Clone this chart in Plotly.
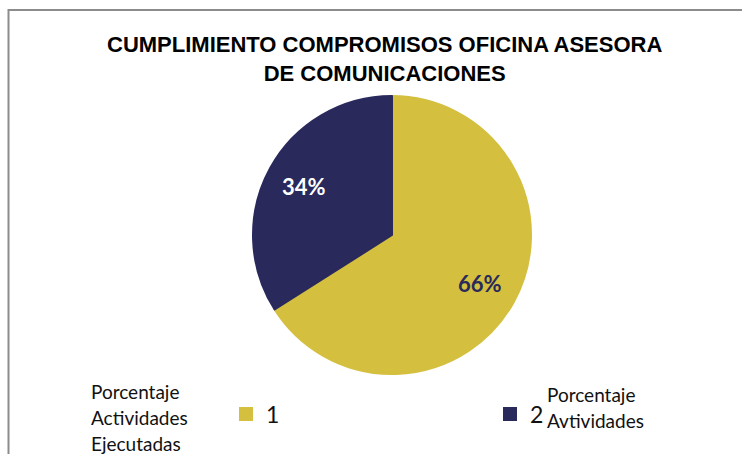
import math
import plotly.graph_objects as go

labels = ["1", "2"]
values = [66, 34]
colors = ["#D4BF3F", "#29295C"]
label_colors = ["#29295C", "#FFFFFF"]
title_lines = ["CUMPLIMIENTO COMPROMISOS OFICINA ASESORA", "DE COMUNICACIONES"]
left_text = ["Porcentaje", "Actividades", "Ejecutadas"]
right_text = ["Porcentaje", "Avtividades"]

W, H = 742, 454
cx, cy, r = 392, 235, 139

fig = go.Figure(go.Pie(
    labels=labels, values=values, sort=False, direction="clockwise", rotation=0,
    marker=dict(colors=colors, line=dict(width=2, color=colors)),
    textinfo="none",
    domain=dict(x=[(cx - r) / W, (cx + r) / W], y=[(H - cy - r) / H, (H - cy + r) / H]),
    hoverinfo="label+percent",
))

ann = []
# percent labels placed at slice mid-angles (derived from the values)
total = sum(values)
start = 0.0
for v, c in zip(values, label_colors):
    frac = v / total
    mid = (start + frac / 2) * 2 * math.pi  # clockwise from top
    start += frac
    px = cx + 0.72 * r * math.sin(mid)
    py = cy - 0.72 * r * math.cos(mid)
    ann.append(dict(text="<b>%d%%</b>" % round(frac * 100), x=px / W, y=1 - py / H,
                    xref="paper", yref="paper", xanchor="center", yanchor="middle", showarrow=False,
                    font=dict(family="Lato", size=22, color=c)))

ann.append(dict(text="<b>" + "<br>".join(title_lines) + "</b>", x=384 / W, y=1 - 30 / H,
                xref="paper", yref="paper", xanchor="center", yanchor="top", showarrow=False,
                font=dict(family="Liberation Sans Narrow, Arial Narrow, Liberation Sans", size=22, color="#000")))
for i, t in enumerate(left_text):
    ann.append(dict(text=t, x=89 / W, y=1 - (391 + i * 26) / H, xref="paper", yref="paper",
                    xanchor="left", yanchor="middle", showarrow=False,
                    font=dict(family="Lato", size=19, color="#111")))
for i, t in enumerate(right_text):
    ann.append(dict(text=t, x=545 / W, y=1 - (394 + i * 26) / H, xref="paper", yref="paper",
                    xanchor="left", yanchor="middle", showarrow=False,
                    font=dict(family="Lato", size=19, color="#111")))

fig.update_layout(
    width=W, height=H, margin=dict(l=0, r=0, t=0, b=0, autoexpand=False),
    paper_bgcolor="white", plot_bgcolor="white",
    showlegend=True,
    legend=dict(orientation="h", x=226 / W, y=1 - 414 / H, xanchor="left", yanchor="middle",
                entrywidth=219, entrywidthmode="pixels",
                font=dict(family="Lato", size=23, color="#111"), bgcolor="rgba(0,0,0,0)"),
    annotations=ann,
    shapes=[dict(type="rect", xref="paper", yref="paper", x0=8.5 / W, x1=1.02, y0=-0.02, y1=1 - 10 / H,
                 line=dict(color="#8C8C8C", width=2), fillcolor="rgba(0,0,0,0)")],
)

post = "document.body.style.margin='0';"
fig.write_html("out.html", post_script=post, config={"displayModeBar": False})
